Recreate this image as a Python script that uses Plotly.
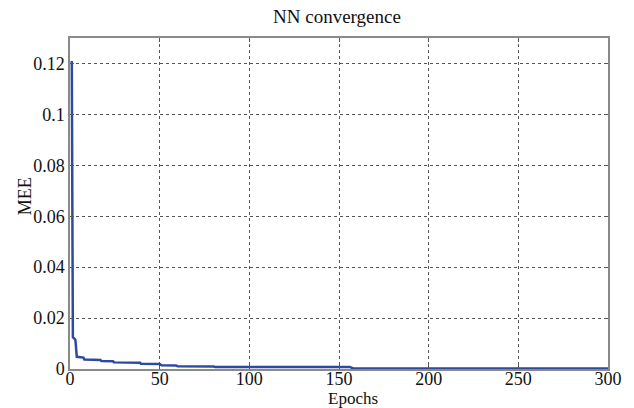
import plotly.graph_objects as go

# Data (step-wise convergence curve)
epochs = [1, 1.3, 1.6, 3.0, 3.8, 7.5, 8, 17, 17.5, 24, 24.5, 39, 39.5, 50, 51, 59, 60, 80, 81, 156, 158, 300]
mee = [0.121, 0.034, 0.0125, 0.0115, 0.0048, 0.0045, 0.0037, 0.0035, 0.0031, 0.0030, 0.0026, 0.0025,
       0.0021, 0.0020, 0.0015, 0.0014, 0.0011, 0.0010, 0.0008, 0.0008, 0.0002, 0.0002]

x_ticks = [0, 50, 100, 150, 200, 250, 300]
y_ticks = [0, 0.02, 0.04, 0.06, 0.08, 0.1, 0.12]
y_tick_labels = ["0", "0.02", "0.04", "0.06", "0.08", "0.1", "0.12"]

title_text = "NN convergence"
x_title = "Epochs"
y_title = "MEE"

W, H = 634, 408
L, R, T, B = 70, 22, 38, 39

font_family = "Liberation Serif"

fig = go.Figure()
fig.add_trace(go.Scatter(
    x=epochs, y=mee, mode="lines",
    line=dict(color="#2D4AA0", width=2.5),
    showlegend=False, hoverinfo="skip",
))

axis_common = dict(
    showline=True, linecolor="#8a8a8a", linewidth=1.5, mirror="ticks",
    ticks="inside", ticklen=4, tickcolor="#555555",
    showgrid=True, gridcolor="#555555", griddash="dot", gridwidth=1,
    zeroline=False,
    tickfont=dict(family=font_family, size=18, color="#111111"),
)

fig.update_xaxes(range=[0, 300], tickvals=x_ticks, ticklabelstandoff=-7, **axis_common)
fig.update_yaxes(range=[0, 0.13], tickvals=y_ticks, ticktext=y_tick_labels, **axis_common)

pw = W - L - R
ph = H - T - B

fig.update_layout(
    width=W, height=H,
    margin=dict(l=L, r=R, t=T, b=B),
    paper_bgcolor="white", plot_bgcolor="white",
    font=dict(family=font_family, color="#111111"),
    annotations=[
        dict(text=title_text, xref="paper", yref="paper",
             x=(339 - L) / pw, y=(H - B - 17) / ph, xanchor="center", yanchor="middle",
             showarrow=False, font=dict(family=font_family, size=19, color="#111111")),
        dict(text=x_title, xref="paper", yref="paper",
             x=(355 - L) / pw, y=(H - B - 398) / ph, xanchor="center", yanchor="middle",
             showarrow=False, font=dict(family=font_family, size=17, color="#111111")),
        dict(text=y_title, xref="paper", yref="paper", textangle=-90,
             x=(25 - L) / pw, y=(H - B - 196) / ph, xanchor="center", yanchor="middle",
             showarrow=False, font=dict(family=font_family, size=18, color="#111111")),
    ],
)

fig.write_html(
    "out.html",
    config={"displayModeBar": False},
    post_script="document.body.style.margin='0px';document.body.style.padding='0px';",
)
